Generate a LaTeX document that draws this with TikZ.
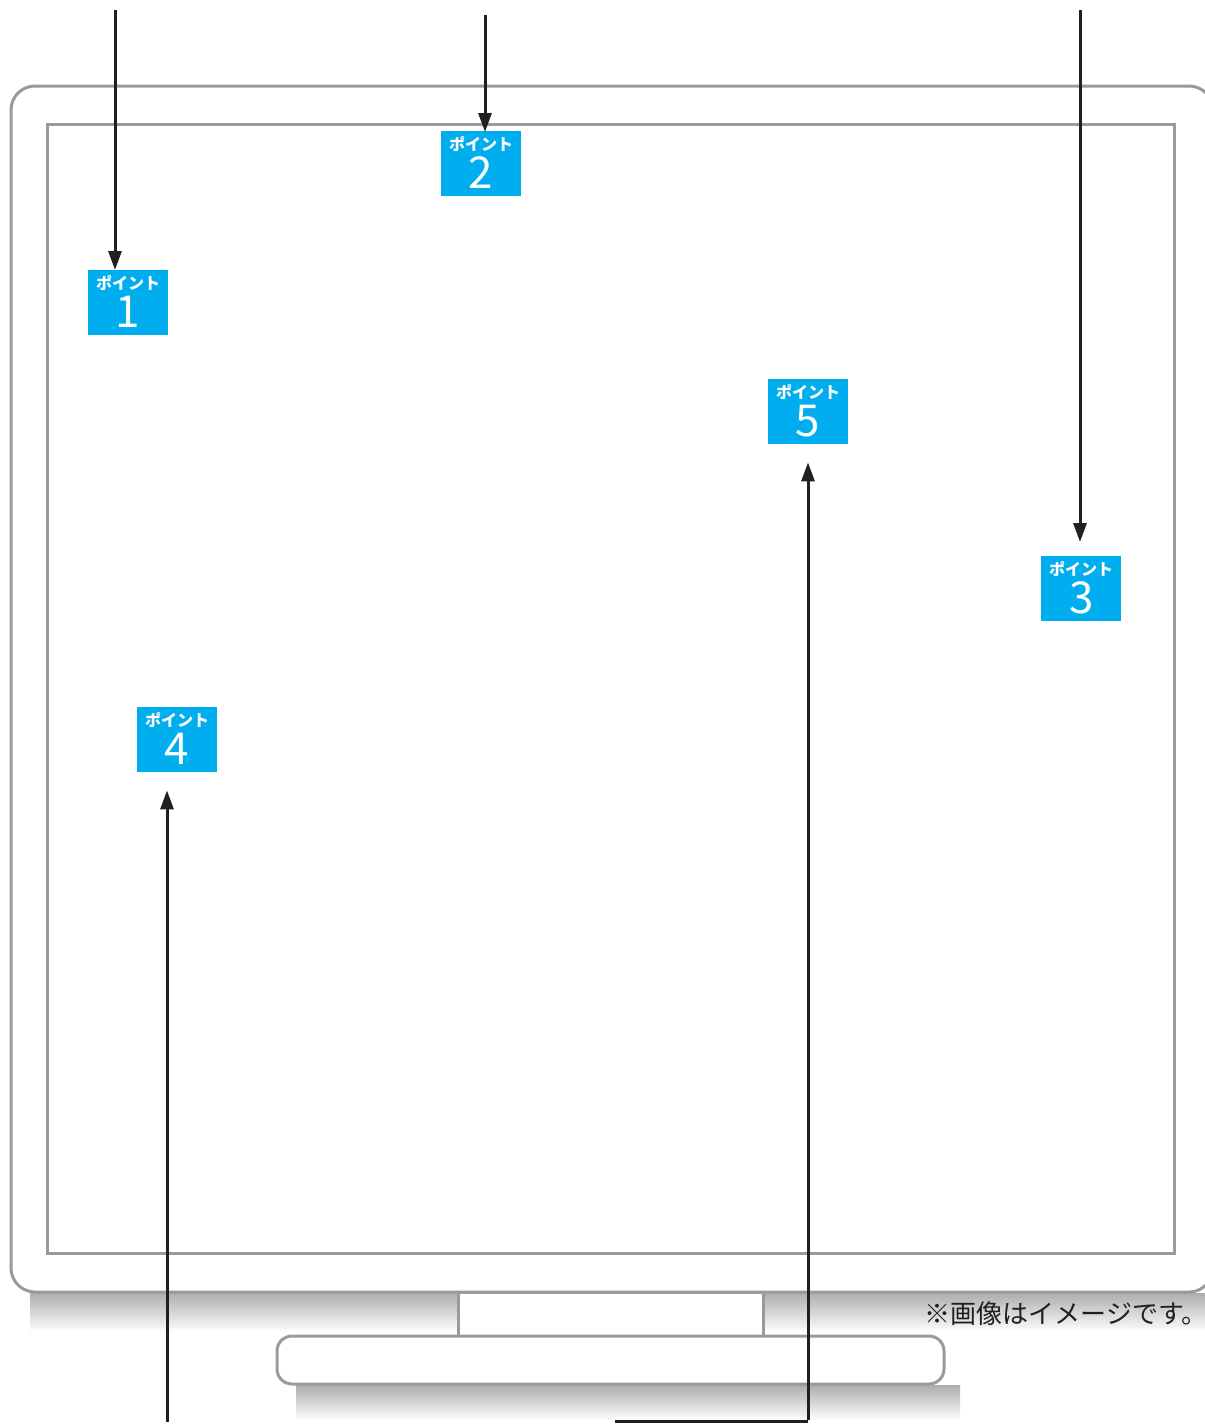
\documentclass[tikz,border=0pt]{standalone}
\usepackage{fontspec}
\setmainfont{Noto Sans CJK JP}
\usetikzlibrary{arrows.meta}
\definecolor{frameg}{HTML}{9A9A9C}
\definecolor{ink}{HTML}{231F20}
\definecolor{pblue}{HTML}{00AEEF}
\tikzset{
  frameline/.style={draw=frameg, line width=3pt, fill=white},
  arr/.style={draw=ink, line width=3pt, -{Triangle[width=13pt,length=19pt]}},
  conn/.style={draw=ink, line width=3pt},
  shadowbox/.style={top color=black!32, bottom color=white},
  pbox/.style={fill=pblue, minimum width=80pt, minimum height=65pt, inner sep=0pt, anchor=north west},
  psmall/.style={text=white, inner sep=0pt, font=\bfseries\fontsize{16}{16}\selectfont},
  pnum/.style={text=white, inner sep=0pt, font=\fontsize{44}{44}\selectfont},
}
\begin{document}
\begin{tikzpicture}[x=1pt,y=-1pt]
\useasboundingbox (0,0) rectangle (1205,1425);
% shadows
\shade[shadowbox] (30,1293) rectangle (1205,1332);
\shade[shadowbox] (296,1385) rectangle (960,1420);
% monitor
\path[frameline, rounded corners=24pt] (11,86) rectangle (1213,1292);
\path[frameline] (47,124) rectangle (1174,1253);
\path[fill=white] (458,1293.5) rectangle (763,1335);
\draw[frameg, line width=3pt] (458,1293) -- (458,1336) (763,1293) -- (763,1336);
\path[frameline, rounded corners=15pt] (277,1336) rectangle (944,1384);
% note
\node[anchor=east, text=ink, inner sep=0pt, font=\fontsize{26}{26}\selectfont] (note) at (1208,1314) {※画像はイメージです。};
% point boxes
\node[pbox] (p1) at (88,270) {};
\node[pbox] (p2) at (441,131) {};
\node[pbox] (p3) at (1041,556) {};
\node[pbox] (p4) at (137,707) {};
\node[pbox] (p5) at (768,379) {};
\foreach \n/\d in {p1/1,p2/2,p3/3,p4/4,p5/5}{
  \node[psmall] (\n s) at ([yshift=-13pt]\n.north) {ポイント};
  \node[pnum] (\n n) at ([yshift=-42pt]\n.north) {\d};
}
% arrows
\coordinate (a1) at (115,10);
\coordinate (a2) at (485,15);
\coordinate (a3) at (1080,10);
\coordinate (a4) at (167,1422);
\coordinate (a5) at (615,1421);
\coordinate (b5) at (808,1421);
\draw[arr] (a1) -- (a1 |- p1.north);
\draw[arr] (a2) -- ([yshift=-1pt]a2 |- p2.north);
\draw[arr, shorten >=14pt] (a3) -- (a3 |- p3.north);
\draw[arr, shorten >=18pt] (a4) -- (a4 |- p4.south);
\draw[conn] (a5) -- (b5);
\draw[arr, shorten >=18pt] ([yshift=1.5pt]b5) -- (b5 |- p5.south);
\end{tikzpicture}
\end{document}
